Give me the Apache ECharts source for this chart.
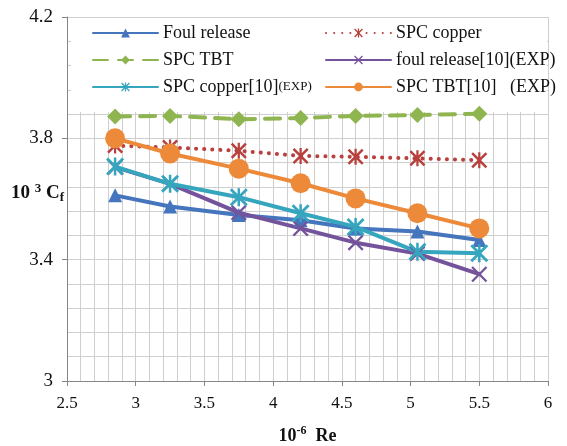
<!DOCTYPE html>
<html>
<head>
<meta charset="utf-8">
<script src="https://cdn.jsdelivr.net/npm/echarts@6/dist/echarts.min.js"></script>
<style>html,body{margin:0;padding:0;background:#fff}#c{width:567px;height:446px}</style>
</head>
<body>
<div id="c"></div>
<script>
// ---- data ----
const reValues = [2.85, 3.25, 3.75, 4.2, 4.6, 5.05, 5.5];
const foulRelease   = [3.612, 3.575, 3.547, 3.530, 3.503, 3.493, 3.465];
const spcCopper     = [3.776, 3.770, 3.759, 3.742, 3.739, 3.734, 3.728];
const spcTBT        = [3.872, 3.874, 3.863, 3.867, 3.874, 3.877, 3.881];
const foulRelease10 = [3.705, 3.650, 3.555, 3.503, 3.456, 3.420, 3.352];
const spcCopper10   = [3.707, 3.650, 3.606, 3.553, 3.508, 3.426, 3.421];
const spcTBT10      = [3.800, 3.750, 3.700, 3.652, 3.602, 3.553, 3.503];
const seriesNames = ['Foul release', 'SPC copper', 'SPC TBT', 'foul release[10](EXP)', 'SPC copper[10](EXP)', 'SPC TBT[10]   (EXP)'];
const xTicks = [2.5, 3, 3.5, 4, 4.5, 5, 5.5, 6];
const yTicks = [3, 3.4, 3.8, 4.2];

const FONT = '"Liberation Serif", "Times New Roman", serif';
const pts = vals => reValues.map((x, i) => [x, vals[i]]);

const STAR = 'path://M2.2,0 L10,7.8 L17.8,0 L20,2.2 L12.2,10 L20,17.8 L17.8,20 L10,12.2 L2.2,20 L0,17.8 L7.8,10 L0,2.2 Z M8.6,0 L11.4,0 L11.4,20 L8.6,20 Z';
const XMARK = 'path://M2,0 L10,8 L18,0 L20,2 L12,10 L20,18 L18,20 L10,12 L2,20 L0,18 L8,10 L0,2 Z';

const chart = echarts.init(document.getElementById('c'), null, {renderer: 'canvas'});

function mk(name, data, color, symbol, size, lineType, width, extra) {
  return Object.assign({
    name: name, type: 'line', data: pts(data),
    symbol: symbol, symbolSize: size,
    showSymbol: true,
    lineStyle: {color: color, width: width, type: lineType, cap: 'round'},
    itemStyle: {color: color, borderWidth: 0},
    emphasis: {disabled: true},
    animation: false
  }, extra || {});
}

const legendText = {
  fontFamily: FONT, fontSize: 18, color: '#111', lineHeight: 20,
  rich: {
    s: {fontFamily: FONT, fontSize: 13, color: '#111'}
  }
};

chart.setOption({
  animation: false,
  grid: {left: 67, right: 19, top: 17, bottom: 65, containLabel: false, outerBoundsMode: 'none'},
  graphic: [{
    type: 'rect', z: 1,
    shape: {x: 71, y: 18, width: 476, height: 94},
    style: {fill: '#ffffff'}
  }],
  legend: [{
    data: [seriesNames[0], seriesNames[2], seriesNames[4]],
    orient: 'vertical', left: 92, top: 23, padding: 0,
    itemWidth: 65, itemHeight: 11, itemGap: 7,
    textStyle: legendText,
    formatter: n => n === 'SPC copper[10](EXP)' ? 'SPC copper[10]{s|(EXP)}' : n
  }, {
    data: [seriesNames[1], seriesNames[3], seriesNames[5]],
    orient: 'vertical', left: 325, top: 23, padding: 0,
    itemWidth: 65, itemHeight: 11, itemGap: 7,
    textStyle: legendText
  }],
  xAxis: {
    type: 'value', min: 2.5, max: 6, interval: 0.5,
    name: '{b|10}{sup|-6}{b|  Re}',
    nameLocation: 'middle', nameGap: 44, nameMoveOverlap: false,
    nameTextStyle: {
      rich: {
        b: {fontFamily: FONT, fontSize: 18, fontWeight: 'bold', color: '#111', lineHeight: 20, verticalAlign: 'bottom'},
        sup: {fontFamily: FONT, fontSize: 12, fontWeight: 'bold', color: '#111', lineHeight: 20, verticalAlign: 'top'}
      }
    },
    axisLine: {show: true, lineStyle: {color: '#868686', width: 1}},
    axisTick: {show: true, length: 5, inside: false, lineStyle: {color: '#868686'}},
    axisLabel: {fontFamily: FONT, fontSize: 17, color: '#111', margin: 14,
      formatter: v => String(v)},
    splitLine: {show: true, lineStyle: {color: '#cfcfcf', width: 1}},
    minorTick: {show: false, splitNumber: 5},
    minorSplitLine: {show: true, lineStyle: {color: '#cfcfcf', width: 1}}
  },
  yAxis: {
    type: 'value', min: 3, max: 4.2, interval: 0.4,
    name: '{b|10 }{sup|3}{b| C}{sub|f}',
    nameLocation: 'middle', nameRotate: 0, nameGap: 3, nameMoveOverlap: false,
    nameTextStyle: {
      align: 'right', padding: [0, 0, 12, 0],
      rich: {
        b: {fontFamily: FONT, fontSize: 19, fontWeight: 'bold', color: '#111', lineHeight: 22, verticalAlign: 'middle'},
        sup: {fontFamily: FONT, fontSize: 13, fontWeight: 'bold', color: '#111', lineHeight: 22, verticalAlign: 'top'},
        sub: {fontFamily: FONT, fontSize: 13, fontWeight: 'bold', color: '#111', lineHeight: 22, verticalAlign: 'bottom'}
      }
    },
    axisLine: {show: true, lineStyle: {color: '#868686', width: 1}},
    axisTick: {show: true, length: 5, lineStyle: {color: '#868686'}},
    axisLabel: {fontFamily: FONT, fontSize: 19, color: '#111', margin: 14,
      formatter: v => String(Math.round(v * 10) / 10)},
    splitLine: {show: true, lineStyle: {color: '#cfcfcf', width: 1}},
    minorTick: {show: false, splitNumber: 5},
    minorSplitLine: {show: true, lineStyle: {color: '#cfcfcf', width: 1}}
  },
  series: [
    mk(seriesNames[0], foulRelease, '#4575bd', 'triangle', 14, 'solid', 4),
    mk(seriesNames[1], spcCopper, '#b8403d', STAR, 16, [0.1, 8], 4),
    mk(seriesNames[2], spcTBT, '#8fb550', 'diamond', 16, [15, 10], 4),
    mk(seriesNames[3], foulRelease10, '#74539c', XMARK, 16, 'solid', 4),
    mk(seriesNames[4], spcCopper10, '#35a6bd', STAR, 18, 'solid', 4),
    mk(seriesNames[5], spcTBT10, '#ec8a3a', 'circle', 20, 'solid', 4)
  ]
});
</script>
</body>
</html>
